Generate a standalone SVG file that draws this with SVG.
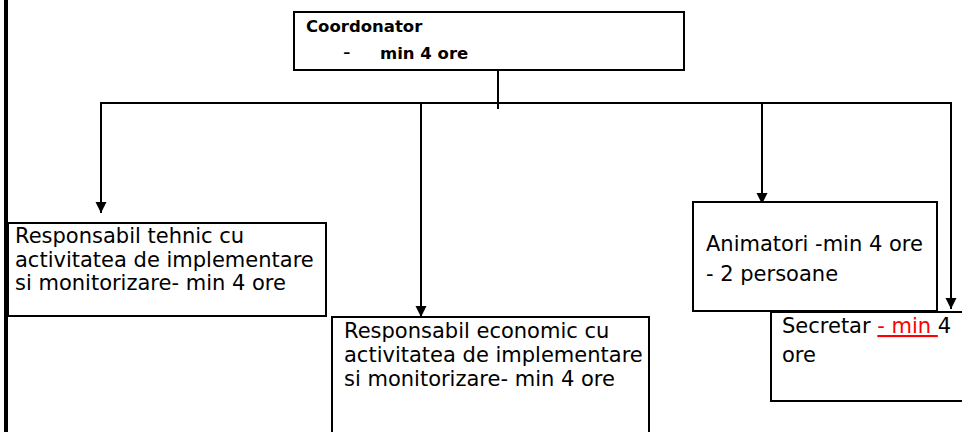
<svg xmlns="http://www.w3.org/2000/svg" width="962" height="432" viewBox="0 0 962 432">
<style>
  .box { fill: #ffffff; stroke: #000000; stroke-width: 2; }
  .t { font-family: "DejaVu Sans", Verdana, sans-serif; font-size: 21px; fill: #000000; }
  .b { font-family: "DejaVu Sans", Verdana, sans-serif; font-size: 16.5px; font-weight: bold; fill: #000000; }
  .conn { stroke: #000000; stroke-width: 2; fill: none; }
  .red { fill: #ff0000; text-decoration: underline; }
</style>
<defs>
  <marker id="arrow" markerUnits="userSpaceOnUse" markerWidth="12" markerHeight="12" refX="11" refY="6" orient="auto">
    <path d="M0,0.5 L11,6 L0,11.5 z" fill="#000000"/>
  </marker>
</defs>
<rect width="962" height="432" fill="#ffffff"/>
<line x1="6" y1="0" x2="6" y2="432" stroke="#000000" stroke-width="4"/>

<g id="connectors">
  <line class="conn" x1="498" y1="70" x2="498" y2="109"/>
  <line class="conn" x1="100" y1="103" x2="952" y2="103" stroke-width="1.6"/>
  <line class="conn" x1="101" y1="103" x2="101" y2="213" marker-end="url(#arrow)"/>
  <line class="conn" x1="421" y1="103" x2="421" y2="317" marker-end="url(#arrow)"/>
  <line class="conn" x1="762" y1="103" x2="762" y2="204" marker-end="url(#arrow)"/>
  <line class="conn" x1="951" y1="103" x2="951" y2="309" marker-end="url(#arrow)"/>
</g>

<g id="coordonator">
  <rect class="box" x="294" y="12" width="390" height="58"/>
  <text class="b" x="306" y="32">Coordonator</text>
  <text class="t" x="343" y="59" font-size="16">-</text>
  <text class="b" x="380" y="59">min 4 ore</text>
</g>

<g id="resp-tehnic">
  <rect class="box" x="8" y="223" width="318" height="93"/>
  <text class="t" x="15" y="243">Responsabil tehnic cu</text>
  <text class="t" x="15" y="266.5">activitatea de implementare</text>
  <text class="t" x="15" y="290">si monitorizare- min 4 ore</text>
</g>

<g id="resp-economic">
  <rect class="box" x="332" y="317" width="317" height="130"/>
  <text class="t" x="344" y="338">Responsabil economic cu</text>
  <text class="t" x="344" y="362">activitatea de implementare</text>
  <text class="t" x="344" y="386">si monitorizare- min 4 ore</text>
</g>

<g id="animatori">
  <rect class="box" x="693" y="202" width="244" height="109"/>
  <text class="t" x="706" y="251">Animatori -min 4 ore</text>
  <text class="t" x="706" y="281">- 2 persoane</text>
</g>

<g id="secretar">
  <rect class="box" x="771" y="312" width="210" height="89"/>
  <text class="t" x="782" y="333">Secretar <tspan class="red">- min </tspan>4</text>
  <text class="t" x="782" y="362">ore</text>
</g>
</svg>
